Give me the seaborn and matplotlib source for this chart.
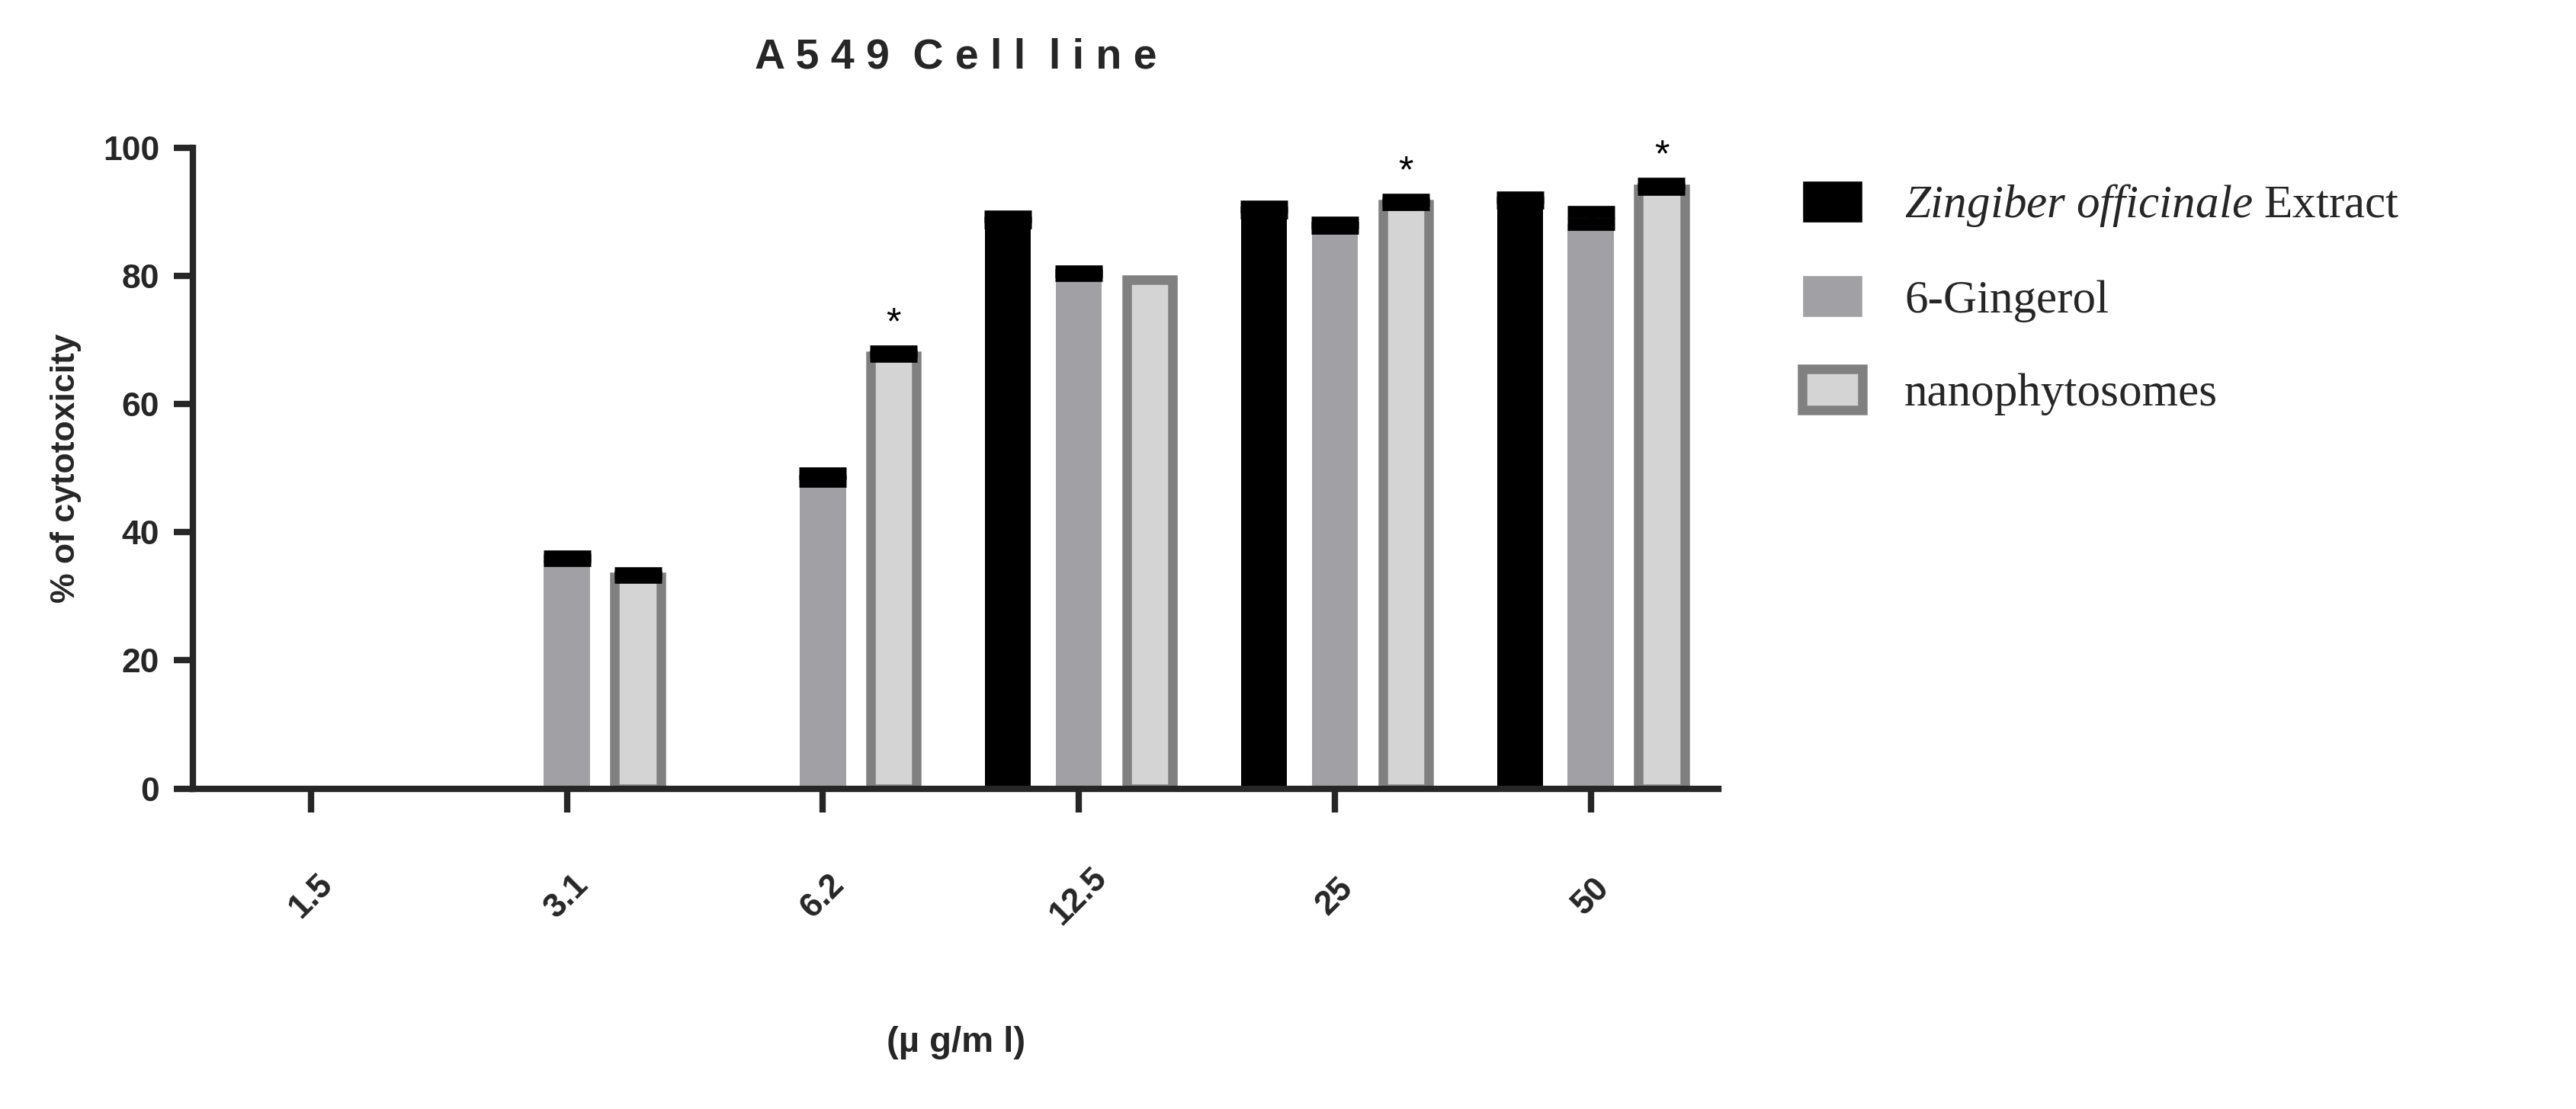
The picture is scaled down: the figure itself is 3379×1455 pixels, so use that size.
import numpy as np
import pandas as pd
import matplotlib
matplotlib.use("Agg")
import matplotlib.pyplot as plt
import seaborn as sns

concentrations = ["1.5", "3.1", "6.2", "12.5", "25", "50"]
series = ["Zingiber officinale Extract", "6-Gingerol", "nanophytosomes"]
extract_vals = [0, 0, 0, 88.3, 89.8, 91.4]
gingerol_vals = [0, 35.6, 48.0, 80.1, 87.5, 88.1]
nano_vals = [0, 33.0, 67.5, 79.4, 91.2, 93.5]
extract_err = [0, 0, 0, 0.9, 1.0, 0.8]
gingerol_err = [0, 0.6, 1.2, 0.6, 0.8, 1.8]
nano_err = [0, 0.6, 0.7, 0, 0.6, 0.8]
significant = [("6.2", 2), ("25", 2), ("50", 2)]

sns.set_style("white")
plt.rcParams['font.family'] = ['Liberation Sans', 'DejaVu Sans']
plt.rcParams['mathtext.fontset'] = 'custom'
plt.rcParams['mathtext.it'] = 'Liberation Serif:italic'
plt.rcParams['mathtext.rm'] = 'Liberation Serif'

rows = []
for s, vals in zip(series, [extract_vals, gingerol_vals, nano_vals]):
    for c, v in zip(concentrations, vals):
        rows.append({"conc": c, "series": s, "val": v})
df = pd.DataFrame(rows)

fig = plt.figure(figsize=(33.8, 14.55), dpi=100)
ax = fig.add_axes([0.075, 0.289, 0.592, 0.578])
palette = {series[0]: "#000000", series[1]: "#a1a0a4", series[2]: "#d4d4d4"}
sns.barplot(data=df, x="conc", y="val", hue="series", order=concentrations,
            hue_order=series, palette=palette, width=0.83, gap=0.35,
            saturation=1, errorbar=None, ax=ax, legend=False)

errs = [extract_err, gingerol_err, nano_err]
vals_all = [extract_vals, gingerol_vals, nano_vals]
n = len(concentrations)
patches = ax.patches
for si in range(3):
    for ci in range(n):
        p = patches[si * n + ci]
        v = vals_all[si][ci]
        if si == 2 and v > 0:
            p.set_edgecolor("#808080")
            p.set_linewidth(9)
        else:
            p.set_edgecolor("none")
        e = errs[si][ci]
        xc = p.get_x() + p.get_width() / 2
        if v > 0 and e > 0:
            ax.errorbar([xc], [v], yerr=[[0], [e]], fmt="none", ecolor="black",
                        elinewidth=7, capsize=22, capthick=12, zorder=5)

for c, si in significant:
    ci = concentrations.index(c)
    p = patches[si * n + ci]
    xc = p.get_x() + p.get_width() / 2
    ax.text(xc, vals_all[si][ci] + errs[si][ci] + 1.5, "*", ha="center",
            va="bottom", fontsize=36, color="black")

ax.set_ylim(0, 100)
ax.set_xlim(-0.46, 5.5)
ax.set_yticks([0, 20, 40, 60, 80, 100])
ax.tick_params(axis="y", labelsize=32, width=6, length=18, direction="out", left=True, pad=14)
ax.tick_params(axis="x", labelsize=32, width=6, length=22, direction="out", bottom=True, pad=80)
for lab in ax.get_yticklabels() + ax.get_xticklabels():
    lab.set_fontweight("bold")
for lab in ax.get_xticklabels():
    lab.set_rotation(45)
    lab.set_ha("center")
    lab.set_va("center")
    lab.set_rotation_mode("anchor")
sns.despine(ax=ax)
for sp in ["left", "bottom"]:
    ax.spines[sp].set_linewidth(6)
ax.set_xlabel("(µ g/m l)", fontsize=34, fontweight="bold", labelpad=90)
ax.set_ylabel("% of cytotoxicity", fontsize=32, fontweight="bold", labelpad=20)
ax.set_title("A 5 4 9  C e l l  l i n e", fontsize=40, fontweight="bold", pad=75)

from matplotlib.patches import Patch
handles = [Patch(facecolor="#000000"), Patch(facecolor="#a1a0a4"),
           Patch(facecolor="#d4d4d4", edgecolor="#808080", linewidth=9)]
labels = ["$\\it{Zingiber\\ officinale}$ Extract", "6-Gingerol", "nanophytosomes"]
fig.legend(handles, labels, loc="upper left", bbox_to_anchor=(0.683, 0.875),
           frameon=False, prop={"family": "Liberation Serif", "size": 44},
           handlelength=1.3, handleheight=1.0, labelspacing=1.0, handletextpad=0.9)

fig.savefig("out.png", dpi=100)
